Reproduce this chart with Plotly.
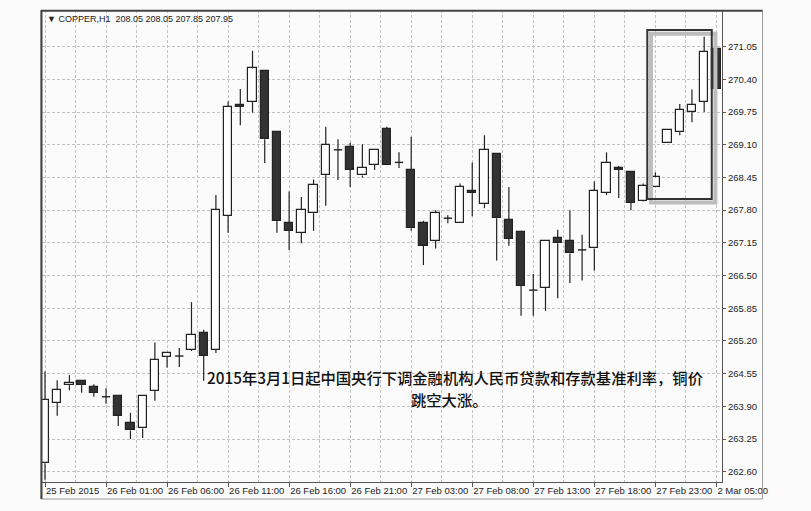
import plotly.graph_objects as go

# ---------------- data ----------------
bar_index = list(range(56))
open_ = [262.77, 263.97, 264.32, 264.41, 264.29, 264.09, 264.11, 263.57, 263.46, 264.21,
         264.88, 264.90, 265.02, 265.36, 265.02, 267.69, 269.90, 269.96, 270.57, 269.36,
         267.55, 267.35, 267.74, 268.50, 269.00, 269.05, 268.49, 268.70, 269.41, 268.75,
         268.60, 267.55, 267.19, 267.64, 267.54, 268.19, 267.92, 268.91, 267.60, 267.36,
         266.21, 266.26, 267.24, 267.19, 267.01, 267.04, 268.15, 268.64, 268.55, 267.99,
         268.26, 269.14, 269.35, 269.76, 269.95, 271.00]
high = [264.59, 264.42, 264.52, 264.42, 264.34, 264.26, 264.12, 263.77, 264.12, 265.17,
        264.97, 265.06, 265.97, 265.42, 268.10, 269.96, 270.21, 270.97, 270.57, 269.36,
        268.17, 268.06, 268.41, 269.46, 269.21, 269.14, 269.11, 269.00, 269.46, 268.95,
        269.26, 267.59, 267.80, 267.70, 268.33, 268.75, 269.29, 268.91, 268.26, 267.39,
        266.53, 267.19, 267.41, 267.80, 267.31, 268.37, 268.95, 268.68, 268.55, 268.33,
        268.55, 269.39, 269.91, 270.20, 271.25, 271.00]
low = [262.44, 263.71, 264.22, 264.17, 264.09, 263.95, 263.51, 263.25, 263.27, 264.01,
       264.67, 264.68, 265.00, 264.41, 264.96, 267.35, 269.49, 269.74, 268.74, 267.35,
       267.01, 267.14, 267.39, 267.89, 268.40, 268.26, 268.45, 268.60, 268.70, 268.64,
       267.39, 266.71, 267.04, 267.54, 267.54, 267.68, 267.84, 266.80, 267.09, 265.70,
       265.70, 265.80, 266.05, 266.35, 266.40, 266.60, 268.10, 268.04, 267.80, 267.97,
       268.26, 269.14, 269.29, 269.55, 269.75, 270.20]
close = [264.03, 264.22, 264.37, 264.32, 264.17, 264.09, 263.71, 263.42, 264.11, 264.82,
         264.97, 264.90, 265.32, 264.90, 267.80, 269.86, 269.86, 270.62, 269.21, 267.59,
         267.39, 267.80, 268.30, 269.10, 269.00, 268.60, 268.64, 269.00, 268.70, 268.75,
         267.44, 267.09, 267.74, 267.64, 268.26, 268.15, 269.00, 267.64, 267.23, 266.29,
         266.21, 267.19, 267.14, 266.94, 267.01, 268.19, 268.74, 268.60, 267.95, 268.29,
         268.45, 269.39, 269.79, 269.89, 270.95, 270.20]

tick_index = [0, 5, 10, 15, 20, 25, 30, 35, 40, 45, 50, 55]
tick_labels = ["25 Feb 2015", "26 Feb 01:00", "26 Feb 06:00", "26 Feb 11:00",
               "26 Feb 16:00", "26 Feb 21:00", "27 Feb 03:00", "27 Feb 08:00",
               "27 Feb 13:00", "27 Feb 18:00", "27 Feb 23:00", "2 Mar 05:00"]
grid_index = [2.5, 7.5, 12.5, 17.5, 22.5, 27.5, 32.5, 37.5, 42.5, 47.5, 52.5]
price_ticks = [262.60, 263.25, 263.90, 264.55, 265.20, 265.85, 266.50, 267.15,
               267.80, 268.45, 269.10, 269.75, 270.40, 271.05]

header = "▼ COPPER,H1\u00a0\u00a0208.05 208.05 207.85 207.95"
note_line1 = "2015年3月1日起中国央行下调金融机构人民币贷款和存款基准利率，铜价"
note_line2 = "跳空大涨。"

# highlight box (bar index / price)
box_x = [49.34, 54.62]
box_y = [268.02, 271.38]

# ---------------- build ----------------
BODY_W = 0.68
EDGE = "#222222"
DARK = "#333333"
GRID = "#c2c2c2"

up = [i for i in bar_index if close[i] > open_[i]]
down = [i for i in bar_index if close[i] < open_[i]]
doji = [i for i in bar_index if close[i] == open_[i]]

wx, wy = [], []
for i in bar_index:
    top = max(open_[i], close[i])
    bot = min(open_[i], close[i])
    if high[i] > top:
        wx += [i, i, None]
        wy += [high[i], top, None]
    if low[i] < bot:
        wx += [i, i, None]
        wy += [bot, low[i], None]

dx, dy = [], []
for i in doji:
    dx += [i - BODY_W / 2, i + BODY_W / 2, None]
    dy += [open_[i], open_[i], None]

fig = go.Figure()
fig.add_trace(go.Bar(
    x=up, y=[close[i] - open_[i] for i in up], base=[open_[i] for i in up],
    width=BODY_W, marker=dict(color="white", line=dict(color=EDGE, width=1.2)),
    hoverinfo="skip"))
fig.add_trace(go.Bar(
    x=down, y=[open_[i] - close[i] for i in down], base=[close[i] for i in down],
    width=BODY_W, marker=dict(color=DARK, line=dict(color=EDGE, width=1.2)),
    hoverinfo="skip"))
fig.add_trace(go.Scatter(x=wx, y=wy, mode="lines",
                         line=dict(color=EDGE, width=1.2), hoverinfo="skip"))
fig.add_trace(go.Scatter(x=dx, y=dy, mode="lines",
                         line=dict(color=EDGE, width=1.4), hoverinfo="skip"))

# highlight rectangle: grey shadow then dark outline
fig.add_shape(type="rect", xref="x", yref="y",
              x0=box_x[0] + 0.3, x1=box_x[1] + 0.3,
              y0=box_y[0] - 0.07, y1=box_y[1] - 0.07,
              line=dict(color="#bdbdbd", width=4), layer="above")
fig.add_shape(type="rect", xref="x", yref="y",
              x0=box_x[0], x1=box_x[1], y0=box_y[0], y1=box_y[1],
              line=dict(color="#333333", width=2), layer="above")

# outer window frame
px = lambda p: (p - 42) / 680.0
py = lambda p: (482 - p) / 472.0
fig.add_shape(type="rect", xref="paper", yref="paper",
              x0=px(41), x1=px(762.5), y0=py(499), y1=py(10.5),
              line=dict(color="#9a9a9a", width=1), layer="above")
fig.add_shape(type="line", xref="paper", yref="paper",
              x0=px(41), x1=px(762.5), y0=py(10.8), y1=py(10.8),
              line=dict(color="#444444", width=2), layer="above")
fig.add_shape(type="line", xref="paper", yref="paper",
              x0=px(41.5), x1=px(41.5), y0=py(499), y1=py(10),
              line=dict(color="#444444", width=2), layer="above")

fig.add_annotation(xref="paper", yref="paper", x=px(45), y=py(19),
                   text=header, showarrow=False, xanchor="left", yanchor="middle",
                   font=dict(family="Liberation Sans", size=9, color="#222222"))
fig.add_annotation(xref="paper", yref="paper", x=px(455), y=py(377),
                   text=note_line1, showarrow=False, xanchor="center", yanchor="middle",
                   font=dict(family="Noto Sans CJK SC", size=15.3, color="#111111",
                             weight=500))
fig.add_annotation(xref="paper", yref="paper", x=px(449), y=py(399),
                   text=note_line2, showarrow=False, xanchor="center", yanchor="middle",
                   font=dict(family="Noto Sans CJK SC", size=15.3, color="#111111",
                             weight=500))

fig.update_layout(
    width=811, height=511,
    margin=dict(l=42, r=89, t=10, b=29, autoexpand=False),
    paper_bgcolor="#fbfbfb", plot_bgcolor="#fbfbfb",
    barmode="overlay", showlegend=False, bargap=0,
    font=dict(family="Liberation Sans", size=9.5, color="#222222"),
)
fig.update_xaxes(
    range=[-0.246, 55.46], tickmode="array", tickvals=tick_index, ticktext=tick_labels,
    tickangle=0, automargin=False,
    ticks="outside", ticklen=4, tickcolor="#555555", ticklabelposition="outside right",
    showgrid=True, gridcolor=GRID, griddash="3px,2px", gridwidth=1,
    minor=dict(tickmode="array", tickvals=grid_index, showgrid=True,
               gridcolor=GRID, griddash="3px,2px", ticks=""),
    showline=True, linecolor="#555555", linewidth=1, zeroline=False,
    tickfont=dict(family="Liberation Sans", size=9.5, color="#222222"),
)
fig.update_yaxes(
    side="right", range=[262.395, 271.78], tickmode="array", tickvals=price_ticks,
    ticktext=["%.2f" % v for v in price_ticks], automargin=False,
    ticks="outside", ticklen=3, tickcolor="#555555",
    showgrid=True, gridcolor=GRID, griddash="3px,2px", gridwidth=1,
    showline=True, linecolor="#555555", linewidth=1, zeroline=False,
    tickfont=dict(family="Liberation Sans", size=9.5, color="#222222"),
)

fig.write_html("out.html", config={"displayModeBar": False},
               post_script="document.body.style.margin='0';document.body.style.overflow='hidden';")
